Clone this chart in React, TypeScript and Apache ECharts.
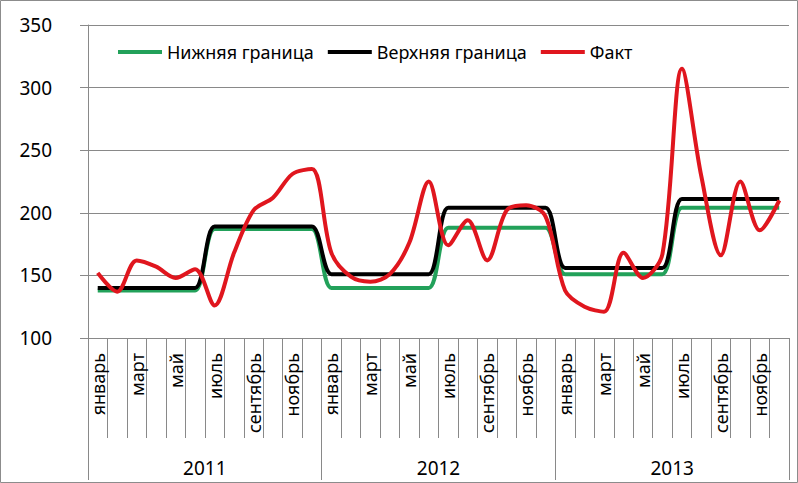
import React, { useEffect, useRef } from "react";
import * as echarts from "echarts";

const monthNames = ["январь", "февраль", "март", "апрель", "май", "июнь", "июль", "август", "сентябрь", "октябрь", "ноябрь", "декабрь"];
const years = ["2011", "2012", "2013"];
const months = [...monthNames, ...monthNames, ...monthNames];

const lowerBound = [
  138, 138, 138, 138, 138, 138, 187, 187, 187, 187, 187, 187,
  140, 140, 140, 140, 140, 140, 188, 188, 188, 188, 188, 188,
  151, 151, 151, 151, 151, 151, 204, 204, 204, 204, 204, 204,
];
const upperBound = [
  140, 140, 140, 140, 140, 140, 189, 189, 189, 189, 189, 189,
  151, 151, 151, 151, 151, 151, 204, 204, 204, 204, 204, 204,
  156, 156, 156, 156, 156, 156, 211, 211, 211, 211, 211, 211,
];
const fact = [
  152, 137, 162, 157, 148, 155, 126, 168, 202, 212, 231, 235,
  168, 149, 145, 151, 176, 225, 174, 194, 162, 202, 206, 197,
  138, 125, 121, 168, 148, 167, 315, 229, 166, 225, 186, 210,
];

const FONT = "Noto Sans";
const GRID = "#898989";

export default function App() {
  const ref = useRef<HTMLDivElement>(null);
  useEffect(() => {
    const chart = echarts.init(ref.current!, null, { renderer: "svg" });
    const lineSeries = (name: string, data: number[], color: string) => ({
      name,
      type: "line",
      data,
      smooth: 0.32,
      symbol: "none",
      xAxisIndex: 0,
      lineStyle: { color, width: 4 },
      itemStyle: { color },
    });
    chart.setOption({
      animation: false,
      textStyle: { fontFamily: FONT },
      grid: { left: 88, right: 9, top: 25, bottom: 145, containLabel: false },
      legend: {
        left: 113,
        top: 38,
        icon: "rect",
        itemWidth: 44,
        itemHeight: 4,
        itemGap: 14,
        textStyle: { fontFamily: FONT, fontSize: 18, color: "#000" },
        data: ["Нижняя граница", "Верхняя граница", "Факт"],
      },
      xAxis: [
        {
          type: "category",
          data: months,
          boundaryGap: true,
          axisLine: { show: true, lineStyle: { color: GRID, width: 1 } },
          axisTick: { show: true, interval: 0, length: 100, lineStyle: { color: GRID } },
          axisLabel: {
            interval: 1,
            rotate: 90,
            margin: 15,
            fontFamily: FONT,
            fontSize: 18,
            color: "#000",
          },
          splitLine: { show: false },
        },
        {
          type: "category",
          data: years,
          position: "bottom",
          boundaryGap: true,
          axisLine: { show: false },
          axisTick: { show: true, interval: 0, length: 142, lineStyle: { color: GRID } },
          axisLabel: { interval: 0, margin: 120, fontFamily: FONT, fontSize: 19, color: "#000" },
          splitLine: { show: false },
        },
      ],
      yAxis: {
        type: "value",
        min: 100,
        max: 350,
        interval: 50,
        axisLine: { show: true, lineStyle: { color: GRID } },
        axisTick: { show: true, length: 8, lineStyle: { color: GRID } },
        axisLabel: { margin: 36, fontFamily: FONT, fontSize: 19, color: "#000" },
        splitLine: { show: true, lineStyle: { color: GRID, width: 1 } },
      },
      graphic: [
        {
          type: "rect",
          shape: { x: 0.5, y: 0.5, width: 797, height: 482 },
          style: { fill: "none", stroke: "#8c8c8c", lineWidth: 1 },
          silent: true,
        },
      ],
      series: [
        lineSeries("Нижняя граница", lowerBound, "#22A15A"),
        lineSeries("Верхняя граница", upperBound, "#000000"),
        lineSeries("Факт", fact, "#E0161E"),
      ],
    });
    return () => chart.dispose();
  }, []);
  return <div ref={ref} style={{ position: "absolute", left: 0, top: 0, width: 798, height: 483 }} />;
}
